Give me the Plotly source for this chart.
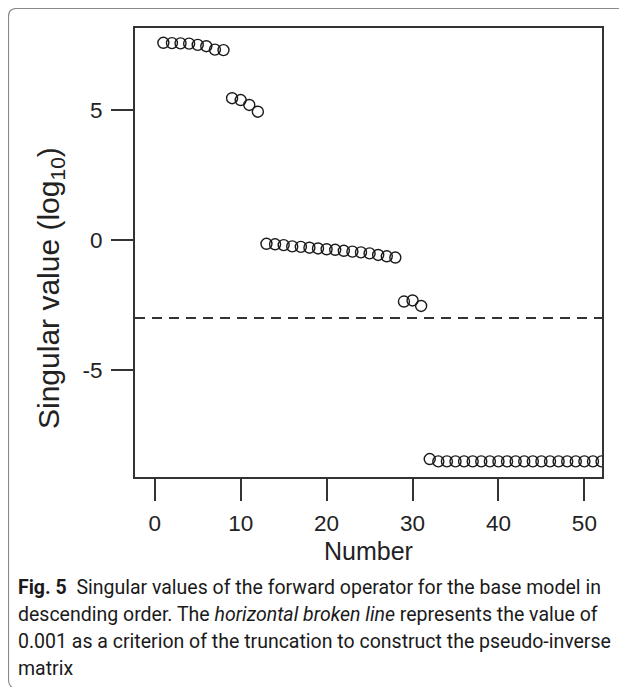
import plotly.graph_objects as go

# Singular value index and log10 singular values
numbers = list(range(1, 53))
log_sv = [
    7.58, 7.57, 7.56, 7.55, 7.50, 7.45, 7.32, 7.30,          # 1-8
    5.45, 5.38, 5.19, 4.93,                                  # 9-12
    -0.15, -0.17, -0.20, -0.25, -0.27, -0.30, -0.33, -0.36,  # 13-20
    -0.38, -0.42, -0.45, -0.48, -0.52, -0.58, -0.63, -0.68,  # 21-28
    -2.37, -2.33, -2.54,                                     # 29-31
    -8.43, -8.52, -8.52, -8.52, -8.52, -8.52, -8.52, -8.52,  # 32-39
    -8.52, -8.52, -8.52, -8.52, -8.52, -8.52, -8.52, -8.52,  # 40-47
    -8.52, -8.52, -8.52, -8.52, -8.52,                       # 48-52
]
threshold = -3  # log10(0.001)
x_ticks = [0, 10, 20, 30, 40, 50]
y_ticks = [-5, 0, 5]
y_tick_labels = ["-5", "0", "5"]

caption_lines = [
    "<b>Fig. 5</b>  Singular values of the forward operator for the base model in",
    "descending order. The <i>horizontal broken line</i> represents the value of",
    "0.001 as a criterion of the truncation to construct the pseudo-inverse",
    "matrix",
]

# page body has an 8px margin; work in page pixel coordinates and offset
OFF = 8
W, H = 627 - OFF, 687 - OFF
PL, PR, PT, PB = 135, 602, 28, 477           # plot box in page pixels
L, T = PL - OFF, PT - OFF
R, B = W - (PR - OFF), H - (PB - OFF)
pw, ph = W - L - R, H - T - B


def px(xp):
    return (xp - OFF - L) / pw


def py(yp):
    return (H - B - (yp - OFF)) / ph


fig = go.Figure()
fig.add_trace(go.Scatter(
    x=numbers, y=log_sv, mode="markers",
    marker=dict(symbol="circle-open", size=11, color="#1a1a1a",
                line=dict(width=1.4, color="#1a1a1a")),
    showlegend=False, hoverinfo="x+y",
))

XR = [-2.3, 52.05]
YR = [-9.12, 8.15]

fig.add_shape(type="line", xref="x", yref="y", x0=XR[0], x1=XR[1],
              y0=threshold, y1=threshold,
              line=dict(color="#333333", width=2, dash="10px,7px"))

# rounded outer frame
frame = (f"M {px(660)} {py(8.5)} L {px(16.5)} {py(8.5)} "
         f"Q {px(8.5)} {py(8.5)} {px(8.5)} {py(16.5)} "
         f"L {px(8.5)} {py(679)} Q {px(8.5)} {py(689)} {px(18)} {py(689)}")
fig.add_shape(type="path", xref="paper", yref="paper", path=frame,
              line=dict(color="#8a8a8a", width=1.2), layer="below")

axis_common = dict(showline=True, linecolor="#333333", linewidth=2, mirror=True,
                   ticks="outside", ticklen=22, tickwidth=2, tickcolor="#333333",
                   showgrid=False, zeroline=False,
                   tickfont=dict(family="Liberation Sans, Arial", size=22.5, color="#222222"))

fig.update_xaxes(range=XR, tickvals=x_ticks, ticklabelstandoff=3, **axis_common)
fig.update_yaxes(range=YR, tickvals=y_ticks, ticktext=y_tick_labels,
                 ticklabelstandoff=4, **axis_common)

annotations = [
    dict(text="Number", x=px(368), y=py(551), xref="paper", yref="paper",
         showarrow=False, xanchor="center", yanchor="middle",
         font=dict(family="Liberation Sans, Arial", size=25, color="#222222")),
    dict(text="Singular value (log<sub>10</sub>)", x=px(51), y=py(288),
         xref="paper", yref="paper", textangle=-90,
         showarrow=False, xanchor="center", yanchor="middle",
         font=dict(family="Liberation Sans, Arial", size=30, color="#222222")),
]
cap_y = [587, 614, 641, 668]
for txt, yy in zip(caption_lines, cap_y):
    annotations.append(dict(text=txt, x=px(16), y=py(yy), xref="paper", yref="paper",
                            showarrow=False, xanchor="left", yanchor="middle",
                            font=dict(family="Roboto", size=19.5, color="#1a1a1a")))

fig.update_layout(
    width=W, height=H,
    margin=dict(l=L, r=R, t=T, b=B),
    paper_bgcolor="white", plot_bgcolor="white",
    annotations=annotations,
)

fig.write_html("out.html")
